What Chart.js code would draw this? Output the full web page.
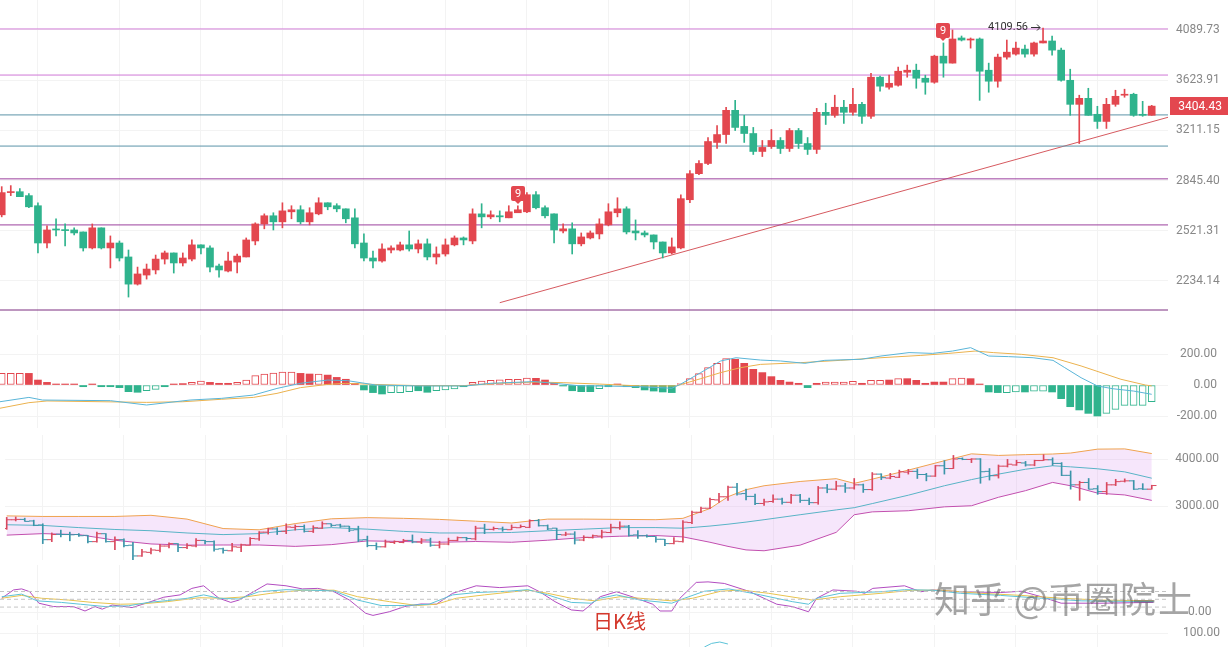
<!DOCTYPE html>
<html>
<head>
<meta charset="utf-8">
<script src="https://cdn.jsdelivr.net/npm/chart.js@4.4.1/dist/chart.umd.min.js"></script>
<style>
  body { margin: 0; background: #fff; }
  #wrap { position: relative; width: 1228px; height: 647px; overflow: hidden; background: #fff; }
  #wrap canvas { position: absolute; left: 0; }
  .note { position: absolute; white-space: nowrap; line-height: 1; }
</style>
</head>
<body>
<div id="wrap">
  <canvas id="main" width="1228" height="330" style="top:0"></canvas>
  <canvas id="macd" width="1217" height="93" style="top:335px"></canvas>
  <canvas id="boll" width="1219" height="135" style="top:430px"></canvas>
  <canvas id="kdj" width="1228" height="55" style="top:565px"></canvas>
  <canvas id="tail" width="1228" height="22" style="top:625px"></canvas>
  <div class="note" style="left:593px;top:611px;font-size:20px;font-family:'Noto Sans CJK SC';color:#d4382c">日K线</div>
  <div class="note" style="left:934px;top:579px;font-size:36px;font-family:'Noto Sans CJK SC';color:rgba(100,100,100,0.58)">知乎 @币圈院士</div>
</div>
<script>
// daily candles
const candleOpen = [2620,2764,2770,2744,2678,2448,2530,2526,2526,2514,2419,2539,2419,2448,2367,2217,2266,2294,2355,2390,
  2333,2355,2437,2419,2316,2288,2338,2367,2460,2563,2614,2576,2639,2652,2576,2626,2697,2678,2658,2601,
  2448,2361,2344,2407,2407,2437,2413,2443,2367,2384,2437,2478,2460,2626,2607,2614,2601,2633,2639,2750,
  2665,2626,2520,2533,2443,2478,2502,2557,2633,2658,2520,2508,2496,2454,2390,2419,2717,2893,2965,3119,
  3179,3370,3242,3187,3052,3089,3134,3074,3210,3111,3067,3354,3330,3395,3354,3419,3322,3650,3563,3580,
  3694,3712,3641,3606,3840,3776,4012,3992,4002,3712,3615,3831,3859,3906,3859,3964,3983,3896,3623,3419,
  3469,3338,3281,3419,3495,3503,3338,3330];
const candleHigh = [2804,2811,2791,2757,2697,2551,2595,2563,2539,2514,2563,2539,2490,2460,2407,2310,2327,2378,2401,2390,
  2390,2466,2437,2431,2327,2395,2384,2478,2570,2626,2633,2697,2678,2678,2665,2730,2697,2691,2658,2658,
  2502,2401,2443,2431,2454,2520,2466,2472,2425,2472,2490,2484,2658,2691,2645,2645,2678,2678,2764,2770,
  2678,2626,2563,2570,2508,2520,2595,2691,2730,2671,2588,2520,2496,2454,2478,2750,2914,2986,3156,3249,
  3395,3452,3330,3234,3134,3218,3156,3226,3226,3156,3386,3428,3495,3452,3554,3436,3685,3659,3668,3740,
  3758,3767,3668,3849,3964,4090,4031,4012,4012,3776,3859,3992,3973,3944,3973,4109.56,4031,3915,3721,3495,
  3554,3403,3469,3537,3546,3512,3444,3411];
const candleLow = [2607,2744,2737,2665,2390,2419,2490,2431,2496,2401,2413,2413,2305,2344,2149,2212,2244,2272,2327,2277,
  2316,2344,2384,2283,2255,2283,2277,2367,2437,2533,2526,2539,2595,2563,2557,2620,2652,2639,2570,2419,
  2344,2305,2338,2390,2401,2401,2390,2350,2327,2372,2431,2437,2443,2539,2595,2576,2601,2633,2633,2658,
  2601,2448,2508,2384,2431,2472,2472,2551,2607,2502,2466,2484,2413,2361,2384,2413,2697,2886,2957,3074,
  3111,3210,3119,3030,3015,3074,3037,3052,3074,3030,3037,3257,3314,3265,3330,3265,3305,3529,3546,3572,
  3650,3554,3503,3597,3650,3776,3983,3915,3452,3520,3563,3812,3849,3831,3840,3964,3849,3615,3330,3111,
  3330,3226,3226,3403,3478,3322,3322,3330];
const candleClose = [2764,2770,2737,2671,2448,2526,2526,2522,2508,2419,2539,2419,2448,2361,2217,2272,2299,2355,2390,2333,
  2361,2437,2419,2310,2294,2344,2372,2466,2563,2614,2576,2645,2652,2576,2633,2697,2671,2658,2595,2443,
  2361,2344,2413,2419,2437,2413,2443,2367,2384,2437,2478,2466,2626,2607,2620,2607,2639,2652,2750,2665,
  2614,2526,2533,2443,2484,2508,2563,2639,2658,2514,2508,2496,2454,2390,2425,2724,2893,2965,3126,3179,
  3370,3234,3187,3052,3082,3134,3074,3210,3111,3067,3354,3330,3395,3354,3419,3322,3650,3572,3597,3703,
  3712,3641,3606,3840,3776,4002,3992,4002,3703,3615,3831,3877,3915,3859,3964,3983,3896,3623,3419,3469,
  3330,3281,3419,3486,3503,3330,3330,3404.43];

// price axis labels, drawn levels, trend line, TD "9" marks
const mainTicks = [4089.73, 3623.91, 3211.15, 2845.40, 2521.31, 2234.14];
const levelValues = [4100, 3669, 3333, 3092, 2857, 2557, 2083];
const trendX = [55, 128.8];
const trendY = [2120, 3314];
const nineIdx = [57, 104];
const nineLabel = '9';

// MACD
const macdHist = [75,75,75,75,32,17,6,6,6,-11,6,-11,-11,-17,-43,-47,-36,-28,-11,4,
  9,17,26,17,11,11,17,32,60,71,77,84,84,75,71,71,64,49,37,11,
  -32,-49,-58,-49,-49,-43,-37,-47,-37,-32,-26,-11,17,26,30,34,37,37,45,43,
  32,11,-6,-37,-43,-43,-24,-11,6,-11,-17,-32,-39,-45,-49,9,41,73,112,140,
  170,166,140,101,80,54,30,19,11,-17,11,19,19,19,24,11,30,30,32,41,
  41,30,11,19,19,41,45,41,4,-45,-49,-49,-45,-45,-39,-39,-45,-88,-140,-161,
  -183,-200,-183,-157,-131,-131,-131,-108];
const macdHollow = [1,1,1,0,0,0,0,0,0,0,0,0,0,0,0,0,1,1,0,0,
  0,1,1,0,0,0,1,1,1,1,1,1,1,0,0,1,0,0,0,0,
  0,0,0,1,1,1,0,0,1,1,1,0,1,1,1,1,1,1,1,0,
  0,0,0,0,0,0,1,0,0,0,0,0,0,0,0,1,1,1,1,1,
  1,0,0,0,0,0,0,0,0,0,0,1,1,1,1,0,1,1,0,1,
  0,0,0,0,0,1,1,0,0,0,0,1,1,0,1,1,0,0,0,0,
  0,0,1,1,1,1,1,1];
const macdTicks = [200, 0, -200];
const difX = [-0.2,3,4.5,12,16,20.8,24.3,27.8,30.4,33,36,38.2,41.3,46,51.3,54,58.8,61,64,66,70.5,74,75,77.2,79.4,81.1,83.8,86,88.7,90.9,94.9,97.1,100.2,102.8,105,107,109,111.2,113.9,116.1,117.4,119.2,121,122.7,125,127];
const difY = [-108,-80,-97,-101,-129,-97,-86,-65,-22,11,32,28,0,-6,-6,11,22,11,-6,-6,-11,-21,6,80,155,176,161,155,140,159,166,187,209,204,219,241,187,183,176,159,112,47,-6,-24,-39,-60];
const deaX = [-0.2,3,5,16,20,24.3,27.8,30.4,33,36,38,41,46,51,55,59,62,66,70.5,74.5,77.2,79.4,81.6,83.8,88.2,92.6,97.1,101.5,104.6,107.5,109.5,112.6,116.1,119.2,121.4,123.6,126.3,127];
const deaY = [-150,-114,-103,-112,-108,-92,-80,-54,-17,4,11,4,-4,-4,11,19,15,6,-6,-6,41,80,112,133,144,159,176,191,204,219,209,198,176,123,80,37,0,-6];

// Bollinger bands
const bbTicks = [4000, 3000];
const bbX = [0,4,8,12,16,20,24,28,32,36,40,44,48,52,56,60,64,68,72,75,78,80,82,84,88,92,94,96,100,104,107,110,113,116,118,121,124,127];
const bbUpper = [2830,2820,2820,2820,2840,2775,2620,2600,2700,2780,2800,2788,2770,2740,2710,2775,2775,2770,2765,2788,2960,3180,3320,3400,3490,3550,3450,3540,3740,3960,4130,4090,4110,4125,4150,4250,4256,4137];
const bbMid = [2681,2670,2635,2605,2585,2550,2525,2540,2600,2635,2610,2575,2550,2550,2558,2585,2610,2635,2635,2625,2660,2690,2725,2765,2850,2935,2975,3050,3210,3400,3530,3650,3760,3840,3815,3770,3700,3560];
const bbLower = [2517,2540,2525,2440,2385,2368,2370,2370,2350,2375,2430,2421,2410,2421,2410,2440,2480,2500,2510,2490,2410,2350,2300,2288,2368,2560,2850,2900,2920,2990,3010,3170,3300,3470,3400,3250,3215,3110];

// KDJ
const kdjLevels = [80, 50, 20];
const kdjTicks = [0];
const kX = [0,2.2,3.9,6.6,8.7,11.4,14,16.2,18.3,20.5,22.3,24,26.2,28.4,31.4,34.1,36.7,39.3,41.9,44.5,47.2,49.8,52.4,55.9,58.1,60.3,62.9,65.1,66.1,67.9,70.5,74,75.4,77.6,80.3,83.8,87.3,89.1,90,92.6,97.1,99.7,102.8,105.9,110.3,114.8,119.2,127.2];
const kY = [60,70,44,38,31,22,25,38,45,54,67,54,51,79,87,85,82,47,26,26,31,67,76,81,87,67,38,35,54,67,47,35,54,81,90,67,41,31,54,73,79,87,85,73,65,54,44,41];
const dX = [0,2.2,4.4,7.4,10,13.1,15.7,18.3,21.8,24.5,27.1,29.7,33.2,36.7,39.3,42.8,45.9,48,50.2,53.3,58.1,60.3,62.9,65.5,68.3,70.5,74,76.3,79.4,81.6,84.7,88.2,89.5,92.6,97.1,100.6,103.7,108.1,112.6,117,121.4,127.2];
const dY = [54,65,54,47,38,31,33,41,56,54,60,73,85,85,60,41,26,31,54,67,85,73,54,44,60,54,44,54,81,86,73,54,47,60,73,85,85,73,65,54,47,44];
const jX = [0,1.3,2.2,3.1,4.1,5.7,7.9,9.2,10.3,11.1,12.2,14.4,16.2,17.9,19.7,21,22.3,23.1,24,25.3,26.2,27.5,29.3,31.4,33.2,34.9,36.7,38.4,40.2,41,42.8,44.5,46.3,48,49.8,52.4,55,58.1,59.4,61.1,62.9,64.2,66.1,67.9,69.6,71.9,72.7,74,74.9,76.7,78,79.8,82.5,85.6,87.3,89.1,90,91.8,94.4,95.3,96.2,99.7,101.5,102.8,105.9,110.3,112.6,114.8,117,121.4,127.2];
const jY = [54,86,90,79,35,22,22,5,22,12,28,18,38,58,67,92,102,79,54,38,47,73,109,102,90,92,79,47,-4,-12,2,22,32,31,73,102,95,102,79,41,9,5,60,79,60,31,5,5,54,115,117,111,81,31,22,2,54,86,81,73,92,102,79,86,79,76,81,60,35,35,38];

// next pane (cut off)
const tailTicks = [100];
const tailX = [77.6, 78.4, 79.3, 80.2];
const tailY = [30, 48, 55, 45];

const gridIdx = [4,13,22,31,40,49,58,67,76,85,94,103,112,121];

const UP = '#e3474f';
const DOWN = '#2fb38d';
const PLOT_RIGHT = 1168;
const X_MIN = -0.19, X_MAX = 128.8;

Chart.defaults.font.family = "Roboto, 'Noto Sans', sans-serif";
Chart.defaults.font.size = 12;
Chart.defaults.color = '#888';
Chart.defaults.animation = false;
Chart.defaults.responsive = false;
Chart.defaults.devicePixelRatio = 1;
Chart.defaults.plugins.legend.display = false;
Chart.defaults.plugins.tooltip.enabled = false;
Chart.defaults.elements.point.radius = 0;
Chart.defaults.elements.line.borderWidth = 1;
Chart.defaults.layout.padding = 0;

const pts = (xs, ys) => xs.map((x, i) => ({ x, y: ys[i] }));
const hline = v => [{ x: X_MIN, y: v }, { x: X_MAX, y: v }];
const candleColor = i => candleClose[i] >= candleOpen[i] ? UP : DOWN;

function xScale() {
  return {
    type: 'linear', min: X_MIN, max: X_MAX, offset: false,
    ticks: { display: false },
    border: { display: false },
    grid: { color: '#f3f3f3', drawTicks: false, offset: false },
    afterBuildTicks: s => { s.ticks = gridIdx.map(value => ({ value })); },
    afterFit: s => { s.height = 0; s.paddingLeft = 0; s.paddingRight = 0; }
  };
}

// labels sit right-aligned against the canvas edge ('far'), or left-aligned after `pad` ('near')
function yScale(type, min, max, ticks, align, pad) {
  return {
    type, position: 'right', min, max, bounds: 'data', beginAtZero: false,
    afterBuildTicks: s => { s.ticks = ticks.map(value => ({ value })); },
    afterFit: s => { s.width = s.chart.width - PLOT_RIGHT; s.paddingTop = 0; s.paddingBottom = 0; },
    ticks: { crossAlign: align, padding: pad, color: '#888', callback: v => Number(v).toFixed(2) },
    grid: { color: '#f3f3f3', drawTicks: false },
    border: { display: false }
  };
}

const markPlugin = {
  id: 'marks',
  afterDatasetsDraw(chart) {
    const { ctx, scales: { x, y } } = chart;
    ctx.save();
    nineIdx.forEach(i => {
      const px = Math.round(x.getPixelForValue(i));
      const py = Math.round(y.getPixelForValue(candleHigh[i])) - 4;
      ctx.fillStyle = UP;
      ctx.beginPath();
      ctx.roundRect(px - 7, py - 16, 14, 15, 2);
      ctx.fill();
      ctx.beginPath();
      ctx.moveTo(px - 3, py - 1);
      ctx.lineTo(px + 3, py - 1);
      ctx.lineTo(px, py + 2);
      ctx.fill();
      ctx.fillStyle = '#fff';
      ctx.font = '11px Roboto';
      ctx.textAlign = 'center';
      ctx.textBaseline = 'middle';
      ctx.fillText(nineLabel, px, py - 8);
    });

    // highest price note
    const hi = Math.max(...candleHigh);
    const hx = x.getPixelForValue(candleHigh.indexOf(hi));
    const hy = Math.round(y.getPixelForValue(hi)) - 1;
    ctx.fillStyle = '#333';
    ctx.font = '11px Roboto';
    ctx.textAlign = 'right';
    ctx.textBaseline = 'middle';
    ctx.fillText(hi.toFixed(2), hx - 15, hy);
    ctx.strokeStyle = '#333';
    ctx.lineWidth = 1;
    ctx.beginPath();
    ctx.moveTo(hx - 12, hy + 0.5);
    ctx.lineTo(hx - 3, hy + 0.5);
    ctx.moveTo(hx - 6, hy - 2.5);
    ctx.lineTo(hx - 3, hy + 0.5);
    ctx.lineTo(hx - 6, hy + 3.5);
    ctx.stroke();
    ctx.restore();
  },
  afterDraw(chart) {
    const { ctx, chartArea, scales: { y } } = chart;
    const last = candleClose[candleClose.length - 1];
    const py = Math.round(y.getPixelForValue(last));
    ctx.save();
    ctx.fillStyle = UP;
    ctx.fillRect(chartArea.right + 2, py - 9, 60, 18);
    ctx.fillStyle = '#fff';
    ctx.font = '12px Roboto';
    ctx.textAlign = 'right';
    ctx.textBaseline = 'middle';
    ctx.fillText(last.toFixed(2), chartArea.right + 54, py + 1);
    ctx.restore();
  }
};

const levelColors = ['#d27fd8', '#cf78d6', '#5b93a8', '#5b93a8', '#9c409e', '#9c409e', '#7c2f80'];

new Chart(document.getElementById('main'), {
  type: 'bar',
  data: {
    datasets: [
      {
        data: candleOpen.map((o, i) => ({ x: i, y: [o, candleClose[i]] })),
        backgroundColor: c => candleColor(c.dataIndex),
        barThickness: 7, grouped: false, minBarLength: 1, order: 1
      },
      {
        data: candleLow.map((l, i) => ({ x: i, y: [l, candleHigh[i]] })),
        backgroundColor: c => candleColor(c.dataIndex),
        barThickness: 1, grouped: false, order: 2
      },
      ...levelValues.map((v, k) => ({
        type: 'line', data: hline(v), borderColor: levelColors[k], order: 3
      })),
      { type: 'line', data: pts(trendX, trendY), borderColor: '#d65a60', order: 3 }
    ]
  },
  options: {
    scales: { x: xScale(), y: yScale('logarithmic', 1985, 4396.3, mainTicks, 'near', 8) }
  },
  plugins: [markPlugin]
});

const histColor = i => macdHist[i] >= 0 ? UP : DOWN;
new Chart(document.getElementById('macd'), {
  type: 'bar',
  data: {
    datasets: [
      { type: 'line', data: pts(difX, difY), borderColor: '#5ab5d8', order: 0 },
      { type: 'line', data: pts(deaX, deaY), borderColor: '#ebb24e', order: 0 },
      {
        data: macdHist.map((v, i) => ({ x: i, y: v })),
        barThickness: 7, grouped: false, borderSkipped: false, minBarLength: 1,
        backgroundColor: c => macdHollow[c.dataIndex] ? '#fff' : histColor(c.dataIndex),
        borderColor: c => histColor(c.dataIndex),
        borderWidth: c => macdHollow[c.dataIndex] ? 1 : 0,
        order: 1
      }
    ]
  },
  options: {
    scales: { x: xScale(), y: yScale('linear', -277.4, 322.6, macdTicks, 'far', 0) }
  }
});

const ohlcUp = '#d9485e', ohlcDown = '#3b94a9';
const ohlcColor = i => candleClose[i] >= candleOpen[i] ? ohlcUp : ohlcDown;
new Chart(document.getElementById('boll'), {
  type: 'bar',
  data: {
    datasets: [
      {
        data: candleLow.map((l, i) => ({ x: i, y: [l, candleHigh[i]] })),
        backgroundColor: c => ohlcColor(c.dataIndex),
        barThickness: 1, grouped: false, order: 0
      },
      {
        type: 'line', showLine: false, order: 0,
        data: candleOpen.map((v, i) => ({ x: i - 0.28, y: v })),
        pointStyle: 'line', pointRadius: 2.2, pointBorderWidth: 1,
        pointBorderColor: c => ohlcColor(c.dataIndex)
      },
      {
        type: 'line', showLine: false, order: 0,
        data: candleClose.map((v, i) => ({ x: i + 0.28, y: v })),
        pointStyle: 'line', pointRadius: 2.2, pointBorderWidth: 1,
        pointBorderColor: c => ohlcColor(c.dataIndex)
      },
      {
        type: 'line', data: pts(bbX, bbUpper), borderColor: '#efa24f',
        fill: '+2', backgroundColor: 'rgba(226,172,243,0.3)', order: 10
      },
      { type: 'line', data: pts(bbX, bbMid), borderColor: '#58b3c6', order: 5 },
      { type: 'line', data: pts(bbX, bbLower), borderColor: '#c24fae', order: 5 }
    ]
  },
  options: {
    scales: { x: xScale(), y: yScale('logarithmic', 2163, 4632, bbTicks, 'far', 0) }
  }
});

new Chart(document.getElementById('kdj'), {
  type: 'line',
  data: {
    datasets: [
      ...kdjLevels.map(v => ({ data: hline(v), borderColor: '#c4c4c4', borderDash: [4, 3] })),
      { data: pts(kX, kY), borderColor: '#5cc3d8' },
      { data: pts(dX, dY), borderColor: '#e8c34e' },
      { data: pts(jX, jY), borderColor: '#b24cc0' }
    ]
  },
  options: {
    scales: { x: xScale(), y: yScale('linear', -29.7, 182, kdjTicks, 'near', 20) }
  }
});

new Chart(document.getElementById('tail'), {
  type: 'line',
  data: { datasets: [{ data: pts(tailX, tailY), borderColor: '#5cc3d8' }] },
  options: {
    scales: { x: xScale(), y: yScale('linear', 30, 140, tailTicks, 'near', 15) }
  }
});
</script>
</body>
</html>
